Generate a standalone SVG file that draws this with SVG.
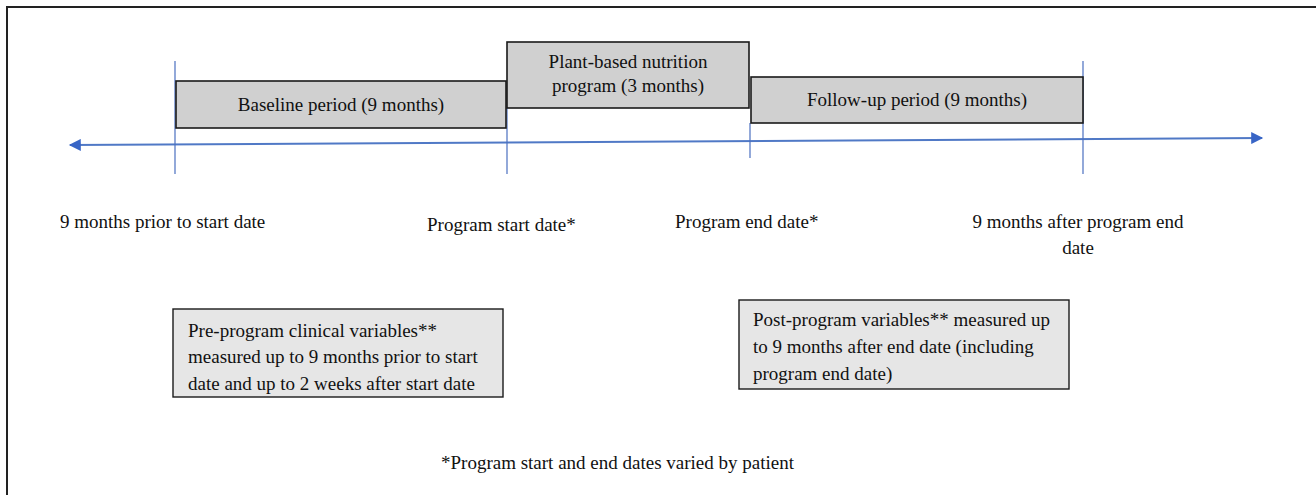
<svg xmlns="http://www.w3.org/2000/svg" width="1316" height="495" viewBox="0 0 1316 495">
<defs>
<style>
.box{fill:#d0d0d0;stroke:#1a1a1a;stroke-width:1.6}
.ibox{fill:#e6e6e6;stroke:#1a1a1a;stroke-width:1.4}
text{font-family:'Liberation Serif','DejaVu Serif','Times New Roman',Times,serif;font-size:19px;fill:#111}
.c{text-anchor:middle}
.v{stroke:#4a6fc0;stroke-width:1.2}
.ax{stroke:#5079c6;stroke-width:2}
</style>
<marker id="ah" viewBox="0 0 10 10" refX="9" refY="5" markerWidth="6.5" markerHeight="6" orient="auto-start-reverse" markerUnits="strokeWidth">
<path d="M0,0 L10,5 L0,10 z" fill="#3865c6"/>
</marker>
</defs>
<rect width="1316" height="495" fill="#fff"/>
<path d="M7,495 V7 H1316" fill="none" stroke="#222" stroke-width="2"/>
<g id="connectors">
<line class="ax" x1="70" y1="145" x2="1262" y2="138" marker-start="url(#ah)" marker-end="url(#ah)"/>
<line class="v" x1="175" y1="61" x2="175" y2="174"/>
<line class="v" x1="507" y1="108" x2="507" y2="174"/>
<line class="v" x1="750" y1="123" x2="750" y2="158"/>
<line class="v" x1="1083" y1="61" x2="1083" y2="174"/>
</g>
<g id="baseline">
<rect class="box" x="176" y="81" width="330" height="47"/>
<text class="c" x="341" y="111">Baseline period (9 months)</text>
</g>
<g id="program">
<rect class="box" x="507" y="42" width="242" height="66"/>
<text class="c" x="628" y="68">Plant-based nutrition</text>
<text class="c" x="628" y="92">program (3 months)</text>
</g>
<g id="followup">
<rect class="box" x="751" y="77" width="332" height="46"/>
<text class="c" x="917" y="106">Follow-up period (9 months)</text>
</g>
<g id="label-prior"><text x="60" y="228">9 months prior to start date</text></g>
<g id="label-start"><text x="427" y="231">Program start date*</text></g>
<g id="label-end"><text x="675" y="228">Program end date*</text></g>
<g id="label-after">
<text class="c" x="1078" y="228">9 months after program end</text>
<text class="c" x="1078" y="254">date</text>
</g>
<g id="pre">
<rect class="ibox" x="173" y="309" width="330" height="88"/>
<text x="188" y="337">Pre-program clinical  variables**</text>
<text x="188" y="363">measured up to 9 months prior to start</text>
<text x="188" y="390">date and up to 2 weeks after start date</text>
</g>
<g id="post">
<rect class="ibox" x="739" y="300" width="330" height="89"/>
<text x="753" y="326">Post-program variables** measured up</text>
<text x="753" y="353">to 9 months after end date (including</text>
<text x="753" y="380">program end date)</text>
</g>
<g id="footnote"><text x="441" y="469">*Program start and end dates varied by patient</text></g>
</svg>
